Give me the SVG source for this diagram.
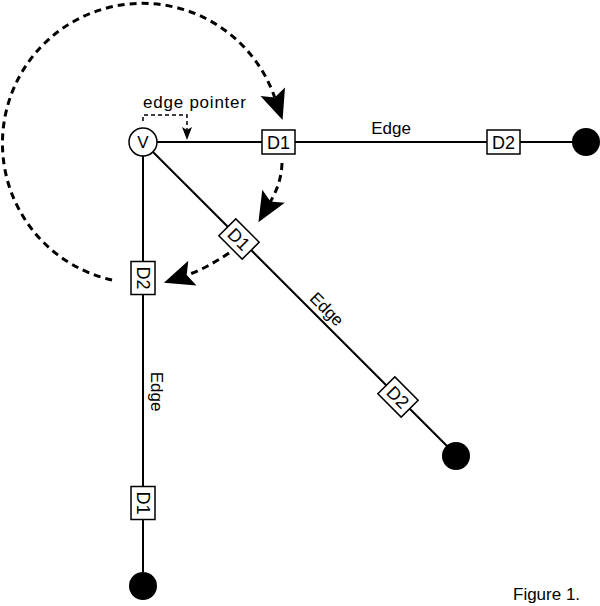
<svg xmlns="http://www.w3.org/2000/svg" width="600" height="606" viewBox="0 0 600 606">
<style>
  .edge{stroke:#000;stroke-width:2;fill:none}
  .ptr{stroke:#000;stroke-width:3;fill:none;stroke-dasharray:7 5}
  .ptrs{stroke:#000;stroke-width:1.5;fill:none;stroke-dasharray:4 3}
  .box{fill:#fff;stroke:#000;stroke-width:1.5}
  .end{fill:#000}
  .lbl{font-family:"Liberation Sans",Arial,sans-serif;fill:#000}
  .d{font-size:18px;text-anchor:middle}
  .t{font-size:17px}
</style>
<defs>
  <marker id="big" markerUnits="userSpaceOnUse" viewBox="-32 -15 34 30" refX="-24" refY="0" markerWidth="34" markerHeight="30" orient="auto">
    <path d="M0,0 L-30,-13 L-24,0 L-30,13 Z" fill="#000" stroke="none"/>
  </marker>
  <marker id="small" markerUnits="userSpaceOnUse" viewBox="-14 -6 16 12" refX="-10" refY="0" markerWidth="16" markerHeight="12" orient="auto">
    <path d="M0,0 L-13,-5 L-10,0 L-13,5 Z" fill="#000" stroke="none"/>
  </marker>
</defs>
<rect width="600" height="606" fill="#fff"/>
<g id="connectors">
  <line class="edge" x1="143" y1="142" x2="586" y2="142"/>
  <line class="edge" x1="143" y1="142" x2="457" y2="456"/>
  <line class="edge" x1="143" y1="142" x2="143" y2="586"/>
  <path class="ptr" d="M112,280 A140,140 0 1 1 274.7,97.4" marker-end="url(#big)"/>
  <path class="ptr" d="M282,163 Q281.5,182.6 270.5,201.5" marker-end="url(#big)"/>
  <path class="ptr" d="M229,253 Q205.7,268.8 186.7,275.1" marker-end="url(#big)"/>
  <path class="ptrs" d="M143,121 L143,115 L187,115 L187,130" marker-end="url(#small)"/>
</g>
<g id="v">
  <circle cx="143" cy="142" r="14" fill="#fff" stroke="#000" stroke-width="1.5"/>
  <text class="lbl t" x="143" y="148" text-anchor="middle">V</text>
</g>
<g id="h-d1">
  <rect class="box" x="262" y="130" width="33" height="24"/>
  <text class="lbl d" x="278.5" y="148.5">D1</text>
</g>
<g id="h-d2">
  <rect class="box" x="487" y="130" width="33" height="24"/>
  <text class="lbl d" x="503.5" y="148.5">D2</text>
</g>
<g id="diag-d1" transform="translate(239,239) rotate(45)">
  <rect class="box" x="-16.5" y="-12" width="33" height="24"/>
  <text class="lbl d" x="0" y="6.5">D1</text>
</g>
<g id="diag-d2" transform="translate(398,397) rotate(45)">
  <rect class="box" x="-16.5" y="-12" width="33" height="24"/>
  <text class="lbl d" x="0" y="6.5">D2</text>
</g>
<g id="v-d2" transform="translate(143,278) rotate(90)">
  <rect class="box" x="-16.5" y="-12" width="33" height="24"/>
  <text class="lbl d" x="0" y="6.5">D2</text>
</g>
<g id="v-d1" transform="translate(143,503) rotate(90)">
  <rect class="box" x="-16.5" y="-12" width="33" height="24"/>
  <text class="lbl d" x="0" y="6.5">D1</text>
</g>
<g id="end-h"><circle class="end" cx="586" cy="142" r="14"/></g>
<g id="end-diag"><circle class="end" cx="456" cy="456" r="14"/></g>
<g id="end-v"><circle class="end" cx="143" cy="586" r="14"/></g>
<g id="labels">
  <text class="lbl t" x="143" y="108" textLength="103" lengthAdjust="spacing">edge pointer</text>
  <text class="lbl t" x="391" y="134" text-anchor="middle">Edge</text>
  <text class="lbl t" transform="translate(327,309) rotate(45)" x="0" y="6" text-anchor="middle">Edge</text>
  <text class="lbl t" transform="translate(155.5,391.5) rotate(90)" x="0" y="5" text-anchor="middle">Edge</text>
  <text class="lbl t" x="513" y="600">Figure 1.</text>
</g>
</svg>
